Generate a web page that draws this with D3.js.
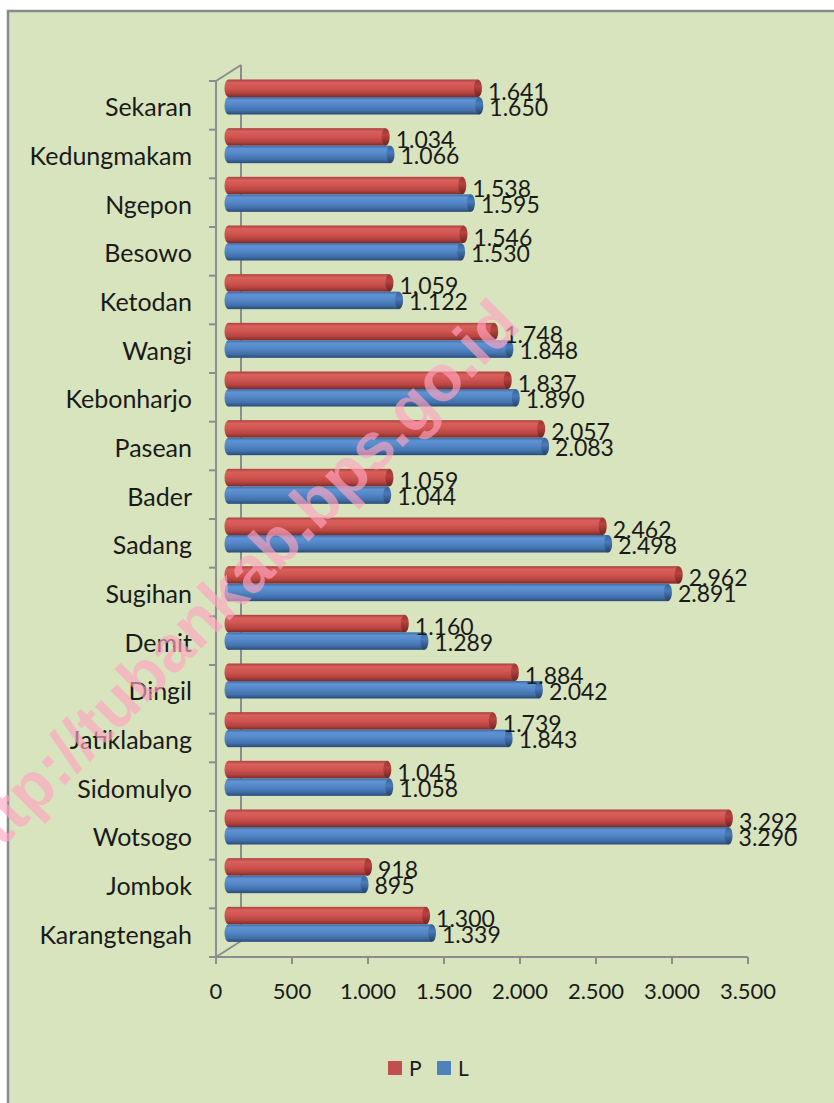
<!DOCTYPE html>
<html>
<head>
<meta charset="utf-8">
<title>Penduduk per desa</title>
<script src="https://cdn.jsdelivr.net/npm/d3@7/dist/d3.min.js"></script>
<style>
	body { margin: 0; background: #ffffff; }
	#chart-area { width: 834px; height: 1103px; }
	text { font-family: Lato, "Noto Sans", sans-serif; fill: #1a1a1a; }
</style>
</head>
<body>
<div id="chart-area"></div>
<script>

// data (P = perempuan, L = laki-laki)
let categories = ["Sekaran", "Kedungmakam", "Ngepon", "Besowo", "Ketodan", "Wangi", "Kebonharjo",
	"Pasean", "Bader", "Sadang", "Sugihan", "Demit", "Dingil", "Jatiklabang", "Sidomulyo",
	"Wotsogo", "Jombok", "Karangtengah"];
let valuesP = [1641, 1034, 1538, 1546, 1059, 1748, 1837, 2057, 1059, 2462, 2962, 1160, 1884, 1739, 1045, 3292, 918, 1300];
let valuesL = [1650, 1066, 1595, 1530, 1122, 1848, 1890, 2083, 1044, 2498, 2891, 1289, 2042, 1843, 1058, 3290, 895, 1339];
let xTicks = [0, 500, 1000, 1500, 2000, 2500, 3000, 3500];
let seriesNames = ["P", "L"];


class BarChart3D {

	constructor(parentElement, config) {
		this.parentElement = parentElement;
		this.config = config;
		this.initVis();
	}

	initVis() {
		let vis = this;

		vis.width = 834;
		vis.height = 1103;

		vis.svg = d3.select("#" + vis.parentElement).append("svg")
			.attr("width", vis.width)
			.attr("height", vis.height);

		// chart area (border only on left/top, rest runs off the page)
		vis.svg.append("rect")
			.attr("x", 8).attr("y", 11)
			.attr("width", 840).attr("height", 1110)
			.attr("fill", "#d8e4bd")
			.attr("stroke", "#8a8a8a")
			.attr("stroke-width", 2.5);

		// depth of the fake 3d walls
		vis.depth = {dx: 25, dy: -16};

		vis.x = d3.scaleLinear()
			.domain([0, 3500])
			.range([216, 748]);

		vis.y = d3.scaleBand()
			.domain(categories)
			.range([81, 957]);

		// gradients for the cylinders
		let defs = vis.svg.append("defs");
		let grads = {
			P: [["0%", "#a9403d"], ["18%", "#d9605c"], ["45%", "#d25653"], ["78%", "#b5443f"], ["100%", "#7e2b28"]],
			L: [["0%", "#3f6aa2"], ["18%", "#5f93d4"], ["45%", "#5488c9"], ["78%", "#4271ab"], ["100%", "#294a76"]],
			Pcap: [["0%", "#9a3936"], ["40%", "#b8423f"], ["100%", "#6e2422"]],
			Lcap: [["0%", "#3a6399"], ["40%", "#4a7bb8"], ["100%", "#23416a"]]
		};
		Object.keys(grads).forEach(k => {
			let g = defs.append("linearGradient")
				.attr("id", "grad-" + k)
				.attr("x1", 0).attr("y1", 0).attr("x2", 0).attr("y2", 1);
			grads[k].forEach(s => g.append("stop").attr("offset", s[0]).attr("stop-color", s[1]));
		});

		vis.axisG = vis.svg.append("g").attr("class", "axes");
		vis.barG = vis.svg.append("g").attr("class", "bars");
		vis.labelG = vis.svg.append("g").attr("class", "labels");
		vis.markG = vis.svg.append("g").attr("class", "watermark");

		vis.wrangleData();
	}

	wrangleData() {
		let vis = this;

		vis.displayData = categories.map((c, i) => ({
			name: c,
			P: valuesP[i],
			L: valuesL[i]
		}));

		vis.updateVis();
	}

	updateVis() {
		let vis = this;
		let d3d = vis.depth;
		let x0 = vis.x(0), x1 = vis.x(3500);
		let yTop = vis.y.range()[0], yBot = vis.y.range()[1];
		let lineColor = "#8c8c8c";

		// walls
		let walls = [
			[x0, yTop, x0, yBot],
			[x0, yTop, x0 + d3d.dx, yTop + d3d.dy],
			[x0 + d3d.dx, yTop + d3d.dy, x0 + d3d.dx, yBot + d3d.dy],
			[x0, yBot, x0 + d3d.dx, yBot + d3d.dy],
			[x0, yBot, x1, yBot]
		];
		vis.axisG.selectAll(".wall")
			.data(walls)
			.enter().append("line")
			.attr("class", "wall")
			.attr("x1", d => d[0]).attr("y1", d => d[1])
			.attr("x2", d => d[2]).attr("y2", d => d[3])
			.attr("stroke", lineColor)
			.attr("stroke-width", 2);

		// category ticks on the left wall
		let bounds = categories.map(c => vis.y(c)).concat([yBot]);
		vis.axisG.selectAll(".ytick")
			.data(bounds)
			.enter().append("line")
			.attr("class", "ytick")
			.attr("x1", x0 - 7).attr("x2", x0)
			.attr("y1", d => d).attr("y2", d => d)
			.attr("stroke", lineColor)
			.attr("stroke-width", 2);

		// x axis ticks + labels
		let fmt = d3.formatLocale({decimal: ",", thousands: ".", grouping: [3], currency: ["", ""]}).format(",");
		vis.fmt = fmt;

		vis.axisG.selectAll(".xtick")
			.data(xTicks)
			.enter().append("line")
			.attr("class", "xtick")
			.attr("x1", d => vis.x(d)).attr("x2", d => vis.x(d))
			.attr("y1", yBot).attr("y2", yBot + 7)
			.attr("stroke", lineColor)
			.attr("stroke-width", 2);

		vis.axisG.selectAll(".xlabel")
			.data(xTicks)
			.enter().append("text")
			.attr("class", "xlabel")
			.attr("x", d => vis.x(d))
			.attr("y", yBot + 42)
			.attr("text-anchor", "middle")
			.style("font-size", "22px")
			.text(d => fmt(d));

		// bars sit halfway into the depth
		let offX = d3d.dx / 2;
		let barH = 17.5;
		let rx = 4;

		let rows = [];
		vis.displayData.forEach(d => {
			seriesNames.forEach((s, j) => {
				rows.push({name: d.name, series: s, value: d[s], top: vis.y(d.name) - 1.5 + j * barH});
			});
		});

		let bar = vis.barG.selectAll(".bar")
			.data(rows)
			.enter().append("g")
			.attr("class", "bar");

		bar.append("ellipse")
			.attr("cx", x0 + offX)
			.attr("cy", d => d.top + barH / 2)
			.attr("rx", rx).attr("ry", barH / 2)
			.attr("fill", d => "url(#grad-" + d.series + ")");

		bar.append("rect")
			.attr("x", x0 + offX)
			.attr("y", d => d.top)
			.attr("width", d => vis.x(d.value) - x0)
			.attr("height", barH)
			.attr("fill", d => "url(#grad-" + d.series + ")");

		bar.append("ellipse")
			.attr("cx", d => vis.x(d.value) + offX)
			.attr("cy", d => d.top + barH / 2)
			.attr("rx", rx).attr("ry", barH / 2)
			.attr("fill", d => "url(#grad-" + d.series + "cap)");

		// value labels
		vis.labelG.selectAll(".vlabel")
			.data(rows)
			.enter().append("text")
			.attr("class", "vlabel")
			.attr("x", d => vis.x(d.value) + offX + 10)
			.attr("y", d => d.top + (d.series === "P" ? 20 : 18.5))
			.style("font-size", "23px")
			.text(d => fmt(d.value));

		// category labels
		vis.labelG.selectAll(".clabel")
			.data(vis.displayData)
			.enter().append("text")
			.attr("class", "clabel")
			.attr("x", 192)
			.attr("y", d => vis.y(d.name) + vis.y.bandwidth() / 2 + 11)
			.attr("text-anchor", "end")
			.style("font-size", "25px")
			.text(d => d.name);

		// legend
		let legend = vis.labelG.selectAll(".legend")
			.data(seriesNames)
			.enter().append("g")
			.attr("class", "legend")
			.attr("transform", (d, i) => "translate(" + (388 + i * 49) + ",1061)");

		legend.append("rect")
			.attr("width", 14).attr("height", 14)
			.attr("fill", d => d === "P" ? "#c0504d" : "#4f81bd");

		legend.append("text")
			.attr("x", 21).attr("y", 15)
			.style("font-size", "21px")
			.text(d => d);

		// watermark
		vis.markG.append("text")
			.attr("transform", "translate(232,586) rotate(-45)")
			.attr("text-anchor", "middle")
			.attr("dominant-baseline", "central")
			.style("font-family", "'Liberation Sans', Arial, sans-serif")
			.style("font-weight", "bold")
			.style("font-size", "65px")
			.style("fill", "rgb(255,165,192)")
			.style("opacity", 0.65)
			.text("http://tubankab.bps.go.id");
	}
}

let chart = new BarChart3D("chart-area", {});

</script>
</body>
</html>
